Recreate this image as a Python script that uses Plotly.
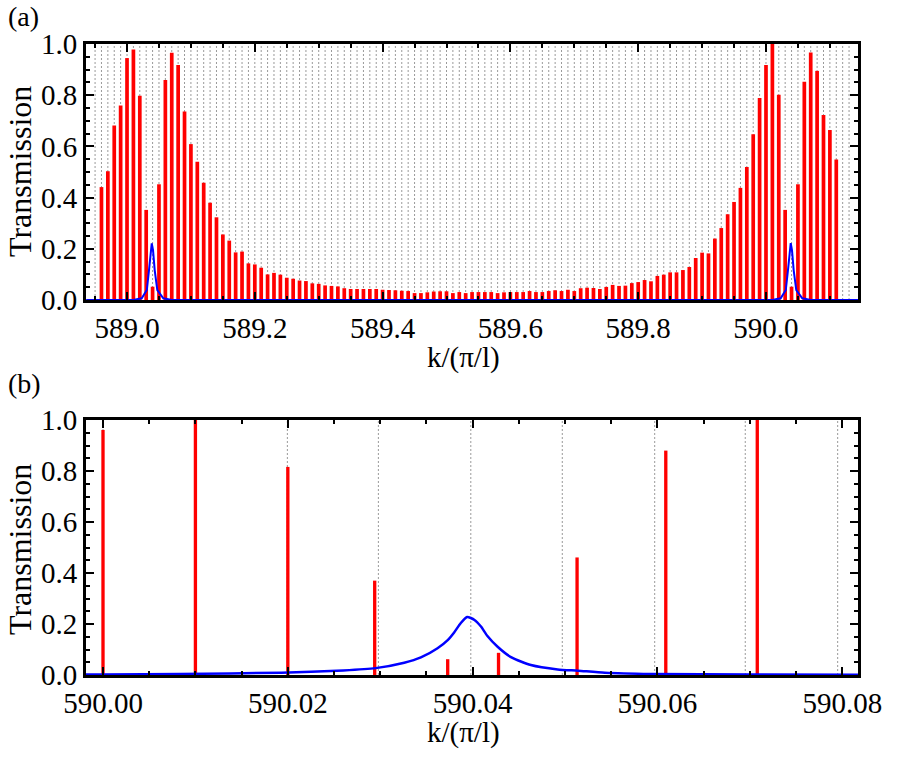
import plotly.graph_objects as go

# ---------------- data: panel (a) ----------------
k_a = [round(588.96 + 0.01 * i, 2) for i in range(116)]
T_a = [0.441, 0.503, 0.682, 0.760, 0.945, 0.979, 0.798, 0.352, 0.052, 0.452,
       0.859, 0.966, 0.918, 0.736, 0.609, 0.540, 0.458, 0.380, 0.323, 0.256,
       0.232, 0.186, 0.189, 0.143, 0.139, 0.126, 0.100, 0.106, 0.099,
       0.087, 0.083, 0.076, 0.074, 0.065, 0.063, 0.057, 0.055, 0.053, 0.046,
       0.043, 0.043, 0.043, 0.043, 0.043, 0.040, 0.039, 0.038, 0.036, 0.035,
       0.027, 0.027, 0.030, 0.033, 0.034, 0.034, 0.027, 0.031, 0.027, 0.031,
       0.031, 0.031, 0.031, 0.027,
       0.030, 0.031, 0.031, 0.031, 0.035, 0.031, 0.031, 0.035, 0.038, 0.035,
       0.040, 0.035, 0.046, 0.048, 0.047, 0.043, 0.051, 0.059, 0.055, 0.056,
       0.066, 0.070, 0.078, 0.073, 0.094, 0.099, 0.108, 0.108, 0.117, 0.129,
       0.164,
       0.185, 0.182, 0.240, 0.281, 0.335, 0.383, 0.438, 0.520, 0.647, 0.789,
       0.918, 1.000, 0.802, 0.352, 0.052, 0.452, 0.853, 0.967, 0.895, 0.723,
       0.664, 0.549]
grid_a = [588.95] + k_a + [590.12, 590.13]

blue_a_x = [588.936, 589.010, 589.023, 589.031, 589.0344, 589.037, 589.0387,
            589.0407, 589.0433, 589.0474, 589.0568, 589.070,
            590.010, 590.023, 590.031, 590.0344, 590.037, 590.0387,
            590.0407, 590.0433, 590.0474, 590.0568, 590.070, 590.144]
blue_a_y = [0.0, 0.0, 0.0065, 0.039, 0.117, 0.195, 0.221,
            0.195, 0.117, 0.039, 0.0065, 0.0,
            0.0, 0.0065, 0.039, 0.117, 0.195, 0.222,
            0.195, 0.117, 0.039, 0.0065, 0.0, 0.0]

# ---------------- data: panel (b) ----------------
k_b = [590.0000, 590.0100, 590.0200, 590.0294, 590.0373, 590.0428,
       590.0513, 590.0609, 590.0708]
T_b = [0.961, 1.000, 0.816, 0.370, 0.062, 0.087, 0.461, 0.880, 1.000]
grid_b = [590.0000, 590.00996, 590.01995, 590.0298, 590.0398, 590.0497,
          590.0597, 590.0695, 590.0795]

blue_b_x = [589.998, 590.0000, 590.0084, 590.0193, 590.0260, 590.0295, 590.0326,
            590.0344, 590.0362, 590.0373, 590.0380, 590.0387, 590.0394,
            590.0402, 590.0409, 590.0416, 590.0427, 590.0442, 590.0463,
            590.0492, 590.0514, 590.0543, 590.0593, 590.0700, 590.0817]
blue_b_y = [0.002, 0.002, 0.004, 0.009, 0.018, 0.027, 0.048,
            0.069, 0.105, 0.137, 0.167, 0.203, 0.2275,
            0.216, 0.190, 0.153, 0.111, 0.069, 0.039,
            0.022, 0.017, 0.009, 0.004, 0.002, 0.001]

# ---------------- styling ----------------
FONT = "Liberation Serif"
FS = 29
RED = "#FF0000"
BLUE = "#0000FF"
GRID = "#9a9a9a"

fig = go.Figure()

# dashed reference lines, drawn below the data
for xs, xr, yr in ((grid_a, "x", "y"), (grid_b, "x2", "y2")):
    for x in xs:
        fig.add_shape(type="line", x0=x, x1=x, y0=0, y1=1, xref=xr, yref=yr,
                      layer="below", line=dict(color=GRID, width=1, dash="2px,2px"))

fig.add_trace(go.Bar(x=k_a, y=T_a, width=0.0058, xaxis="x", yaxis="y",
                     marker=dict(color=RED, line=dict(width=0)),
                     showlegend=False))
fig.add_trace(go.Scatter(x=blue_a_x, y=blue_a_y, mode="lines", xaxis="x", yaxis="y",
                         line=dict(color=BLUE, width=2), showlegend=False))

fig.add_trace(go.Bar(x=k_b, y=T_b, width=0.00036, xaxis="x2", yaxis="y2",
                     marker=dict(color=RED, line=dict(width=0)),
                     showlegend=False))
fig.add_trace(go.Scatter(x=blue_b_x, y=blue_b_y, mode="lines", xaxis="x2", yaxis="y2",
                         line=dict(color=BLUE, width=2.5, shape="spline", smoothing=0.6),
                         showlegend=False))

axis_common = dict(showline=True, linecolor="black", linewidth=3, mirror="allticks",
                   ticks="inside", ticklen=8, tickwidth=2, tickcolor="black",
                   showgrid=False, zeroline=False, automargin=False,
                   tickfont=dict(family=FONT, size=FS, color="black"))
minor_common = dict(ticks="inside", ticklen=4, tickwidth=1.5, tickcolor="black", showgrid=False)

XDOM = [86 / 900, 858 / 900]
fig.update_layout(
    width=900, height=763,
    margin=dict(l=0, r=0, t=0, b=0, autoexpand=False),
    paper_bgcolor="white", plot_bgcolor="white",
    barmode="overlay",
    font=dict(family=FONT, size=FS, color="black"),
    xaxis=dict(axis_common, domain=XDOM, anchor="y", range=[588.9358, 590.144],
               tick0=589.0, dtick=0.2, tickformat=".1f",
               minor=dict(minor_common, dtick=0.05)),
    yaxis=dict(axis_common, domain=[(763 - 300) / 763, (763 - 44) / 763], anchor="x",
               range=[0, 1], tick0=0, dtick=0.2, tickformat=".1f",
               minor=dict(minor_common, dtick=0.05)),
    xaxis2=dict(axis_common, domain=XDOM, anchor="y2", range=[589.99816, 590.0817],
                tick0=590.0, dtick=0.02, tickformat=".2f",
                minor=dict(minor_common, dtick=0.005)),
    yaxis2=dict(axis_common, domain=[(763 - 675) / 763, (763 - 420) / 763], anchor="x2",
                range=[0, 1], tick0=0, dtick=0.2, tickformat=".1f",
                minor=dict(minor_common, dtick=0.005 * 10)),
)


def ann(text, x, y, angle=0, xanchor="center", yanchor="middle", size=FS):
    fig.add_annotation(text=text, x=x / 900, y=1 - y / 763, xref="paper", yref="paper",
                       showarrow=False, textangle=angle, xanchor=xanchor, yanchor=yanchor,
                       font=dict(family=FONT, size=size, color="black"))


ann("(a)", 6, 17, xanchor="left", size=28)
ann("(b)", 6, 383, xanchor="left", size=28)
ann("Transmission", 20, 172, angle=-90, size=32)
ann("Transmission", 20, 550, angle=-90, size=32)
ann("k/(π/l)", 463, 357)
ann("k/(π/l)", 463, 732)

fig.write_html("out.html")
